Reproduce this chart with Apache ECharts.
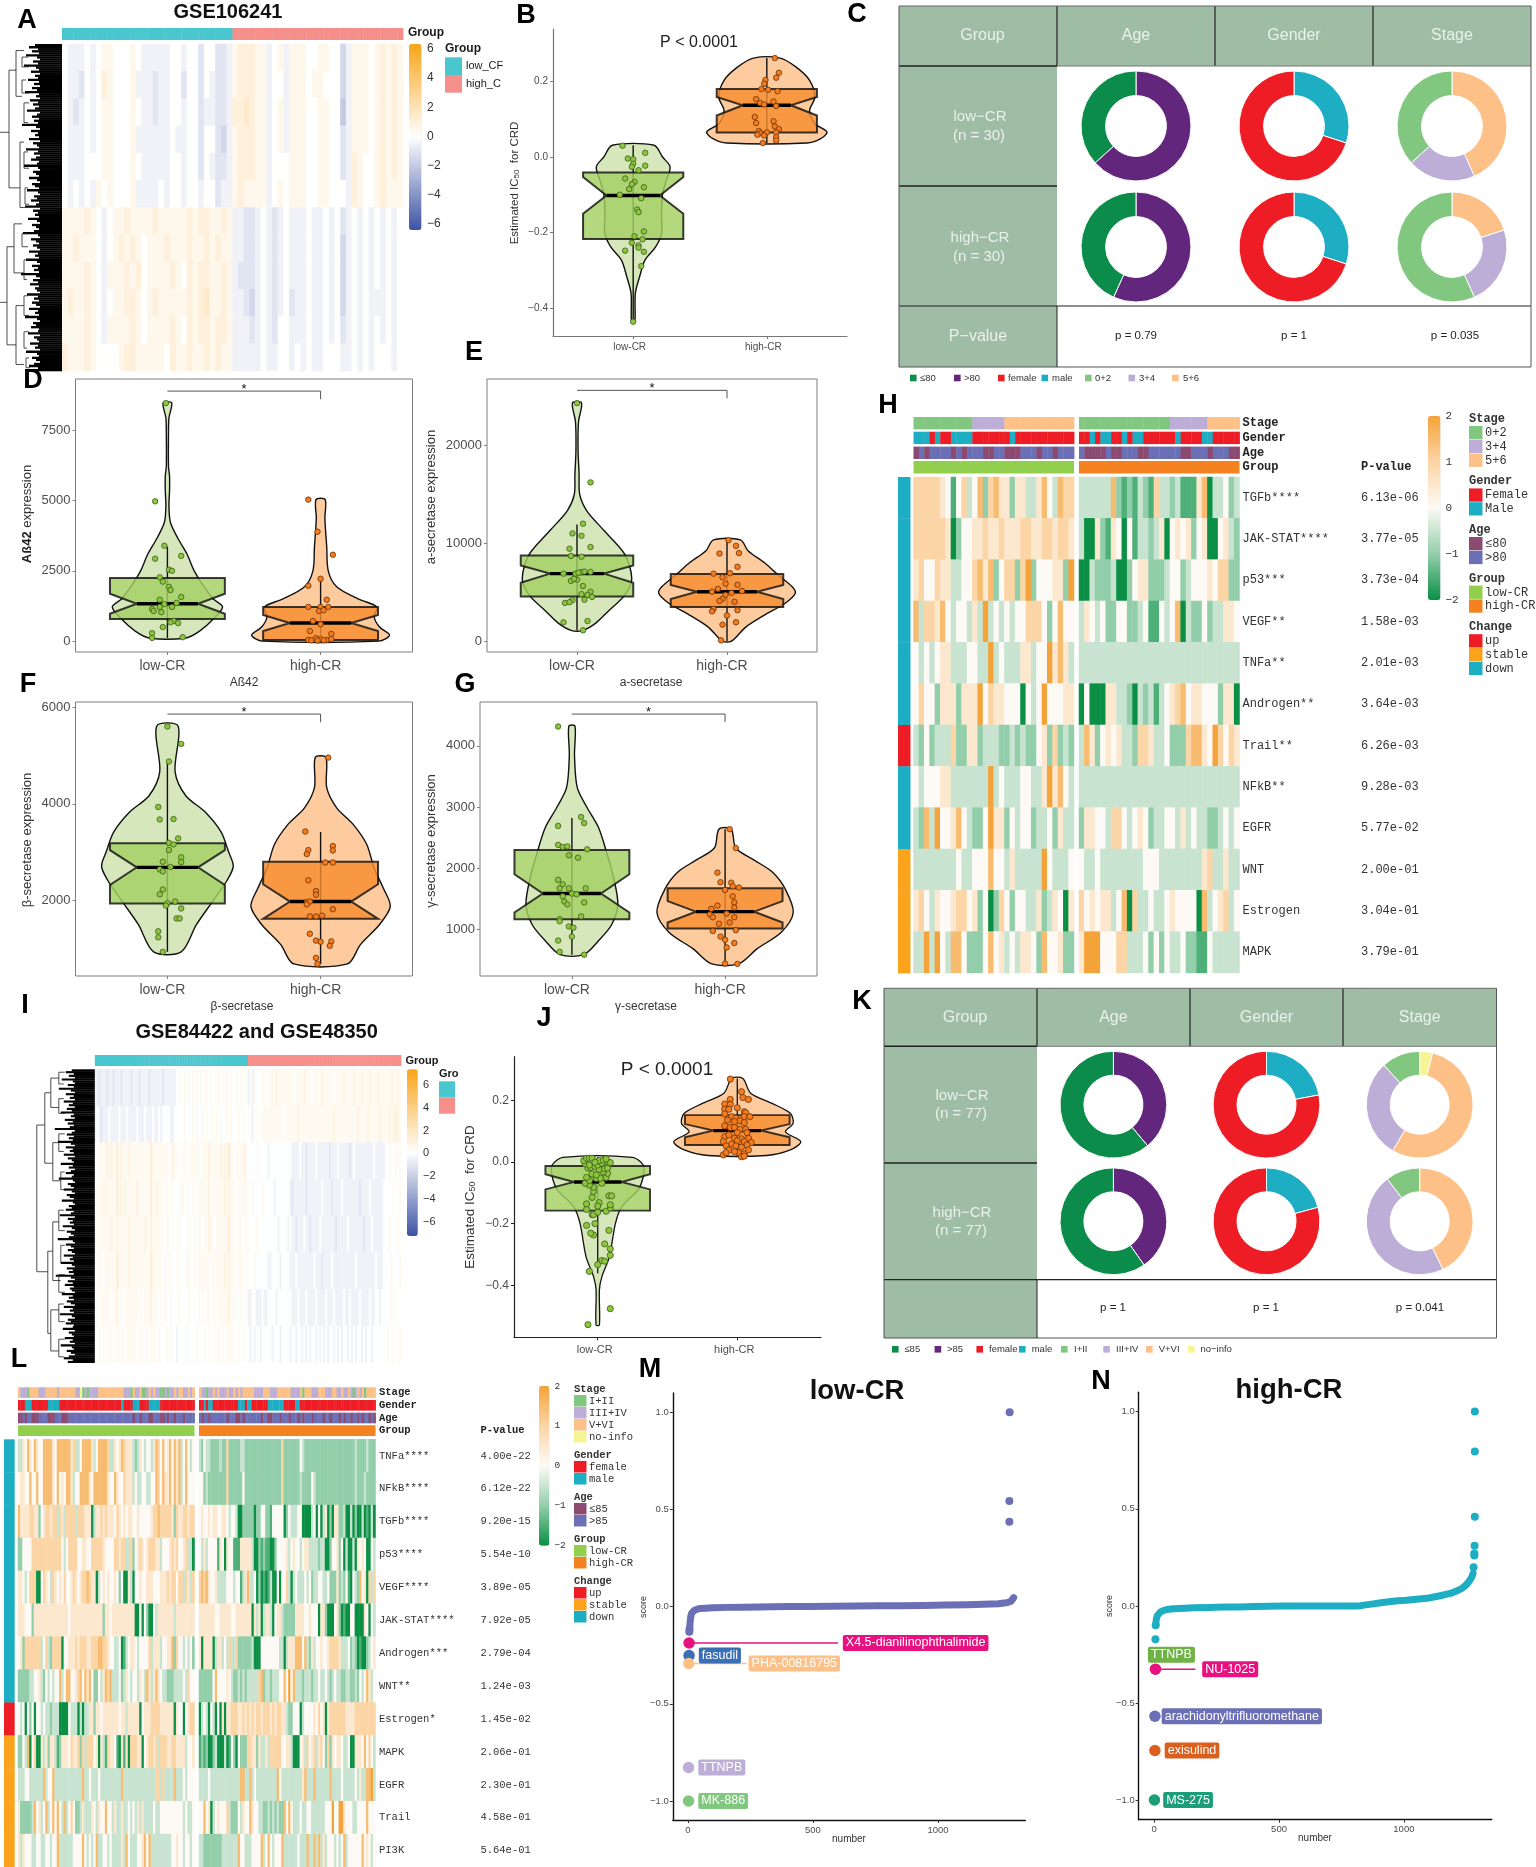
<!DOCTYPE html>
<html>
<head>
<meta charset="utf-8">
<title>CR score panels</title>
<script src="https://cdn.jsdelivr.net/npm/echarts@6/dist/echarts.min.js"></script>
<style>
html, body { margin: 0; padding: 0; background: #fff; }
#main { width: 1536px; height: 1867px; }
</style>
</head>
<body>
<div id="main"></div>
<script>
"use strict";

const groupNames = ['low-CR', 'high-CR'];

// ---- B: IC50 violin, GSE106241. Profiles are [value, half width]
const bLowViolin = [[.031,.156],[0,.22],[-.026,.276],[-.062,.248],[-.097,.22],[-.15,.212],[-.203,.212],[-.238,.168],[-.273,.088],[-.317,.048],[-.361,.016],[-.439,.012]];
const bHighViolin = [[.262,.1],[.238,.22],[.203,.32],[.159,.36],[.123,.32],[.088,.36],[.066,.45],[.048,.4],[.037,.3]];
// box = q1, notch low, median, notch high, q3, whisker low, whisker high, waist half width
const bLowBox = [-.217,-.15,-.102,-.053,-.041,-.439,.031,.2];
const bHighBox = [.065,.11,.137,.159,.18,.037,.262,.18];
const bLowPts = [[.92,.03],[1.09,.011],[.96,-.004],[1,-.006],[1,-.018],[1.09,-.023],[.99,-.026],[1.04,-.035],[.94,-.057],[1.01,-.066],[.99,-.072],[1.08,-.08],[.97,-.085],[.9,-.1],[1.06,-.109],[1.03,-.139],[1.04,-.146],[1.08,-.197],[1.01,-.21],[1.07,-.218],[.99,-.227],[1.04,-.234],[1.04,-.24],[.94,-.248],[1.08,-.251],[1.06,-.289],[1,-.436]];
const bHighPts = [[2.06,.262],[2.09,.223],[2.07,.21],[1.99,.204],[1.98,.194],[1.96,.18],[2.01,.178],[2.08,.174],[1.92,.153],[1.95,.143],[1.98,.139],[2.05,.147],[2.07,.135],[1.91,.106],[1.92,.09],[2.05,.095],[2.06,.081],[2.09,.074],[1.94,.069],[2,.065],[1.95,.063],[2.07,.065],[1.93,.059],[1.98,.057],[2.07,.053],[2.07,.044],[1.97,.037]];

// ---- D: Aß42
const dLowViolin = [[8470,.028],[7930,.01],[7360,.007],[6215,.007],[5860,.014],[5360,.014],[4790,.01],[4215,.02],[3640,.07],[3070,.13],[2500,.175],[1930,.24],[1500,.3],[1215,.36],[785,.3],[357,.21],[114,.12]];
const dHighViolin = [[5030,.03],[4360,.028],[3360,.04],[2500,.05],[1930,.105],[1500,.245],[1215,.367],[857,.35],[500,.385],[214,.45],[0,.38]];
const dLowBox = [786,972,1329,1686,2243,114,3358,.2];
const dHighBox = [43,357,643,930,1215,43,2215,.2];
const dLowPts = [[.99,8460],[.92,4970],[.98,3390],[.92,2930],[1.09,3030],[1.01,2540],[1.03,2500],[.95,2270],[.97,2115],[1.01,1930],[1.02,1815],[1.09,1570],[.95,1470],[1.06,1360],[.98,1315],[1.03,1215],[.9,1140],[.95,1215],[.91,1070],[.96,1030],[1.04,715],[1.02,670],[1.07,640],[.97,500],[.9,285],[.9,115],[1.1,140]];
const dHighPts = [[1.92,5030],[1.98,3890],[2.08,3070],[2,2215],[1.92,1970],[2.04,1470],[1.92,1215],[2,1215],[2.05,1215],[1.99,1070],[2.02,1100],[1.95,715],[2,600],[1.93,357],[2.07,257],[1.92,43],[1.97,100],[2,70],[2.04,43],[2.07,70],[1.94,30],[2.02,30],[1.98,20]];

// ---- E: a-secretase
const eLowViolin = [[24400,.03],[22430,.01],[19550,.007],[17080,.014],[15020,.018],[13370,.064],[11320,.18],[8850,.32],[6380,.365],[4730,.32],[3090,.21],[1850,.125],[1110,.04]];
const eHighViolin = [[10370,.09],[9260,.14],[8020,.25],[6790,.34],[5560,.435],[4900,.455],[3910,.39],[2670,.25],[1440,.125],[0,.03]];
const eLowBox = [4570,5970,6910,7740,8765,1110,11930,.18];
const eHighBox = [3500,4320,5060,5760,6870,0,10370,.2];
const eLowPts = [[1,24360],[1.09,16250],[1.04,12020],[.97,11030],[1.03,10780],[1.09,9630],[.95,9460],[.96,8720],[1.03,8640],[.91,6910],[1.03,7080],[1.05,7120],[1.09,7080],[.99,6910],[1.01,7000],[1,6300],[.96,6170],[.98,6380],[1.04,5640],[1.09,5060],[1.07,4730],[1.03,4810],[1.1,4530],[1.05,4240],[.97,4200],[.92,3910],[.95,3990],[.91,1930],[1.07,2060],[1.04,1110]];
const eHighPts = [[2.01,10330],[2.06,9750],[1.95,8970],[2.08,9010],[2.07,7610],[1.91,6910],[2.02,6950],[1.97,6540],[2.07,5760],[1.99,5880],[1.94,5350],[1.9,5060],[2.1,5140],[2.03,4940],[1.99,4730],[1.97,4320],[1.95,4110],[2.05,4030],[1.91,3290],[1.9,3050],[2.07,3170],[2,2630],[2.06,1930],[1.97,1690],[1.96,80]];

// ---- F: β-secretase
const fLowViolin = [[5607,.07],[4667,.05],[4166,.12],[3833,.245],[3416,.35],[3000,.4],[2708,.43],[2416,.39],[2000,.3],[1500,.19],[933,.09]];
const fHighViolin = [[4957,.035],[4333,.04],[3916,.105],[3583,.21],[3166,.3],[2666,.35],[2250,.41],[1875,.455],[1500,.385],[1083,.26],[683,.175]];
const fLowBox = [1933,2317,2683,3041,3183,933,4875,.2];
const fHighBox = [1617,1617,1975,2333,2800,683,3416,.2];
const fLowPts = [[1,5600],[1.09,5240],[1.01,4875],[.94,3933],[.95,3675],[1.04,3683],[1.07,3283],[1.01,3191],[1.04,3158],[1.01,3041],[1.09,2891],[1.09,2791],[.97,2800],[1.02,2691],[.95,2641],[.97,2600],[.97,2225],[.95,2125],[1.05,1975],[1,1941],[.99,1891],[1.09,1833],[1.06,1625],[1.08,1625],[.94,1358],[.94,1233],[.97,933]];
const fHighPts = [[2.05,4957],[1.9,3425],[2.08,3125],[2.08,3033],[1.92,3041],[1.91,2958],[2.03,2783],[2.08,2783],[1.92,2416],[1.97,2191],[1.97,2116],[1.91,1958],[1.93,1975],[1.91,1916],[2.08,1816],[1.93,1667],[1.97,1667],[2.01,1683],[1.93,1308],[1.97,1167],[2,1142],[2.07,1150],[2.06,1058],[1.97,808],[1.98,683]];

// ---- G: γ-secretase
const gLowViolin = [[4322,.02],[3843,.017],[3318,.035],[2990,.1],[2661,.175],[2267,.226],[1873,.27],[1414,.3],[1085,.26],[823,.175],[593,.077]];
const gHighViolin = [[2641,.04],[2333,.07],[2136,.19],[1939,.31],[1676,.39],[1282,.445],[954,.365],[691,.21],[442,.087]];
const gLowBox = [1171,1282,1591,1906,2300,593,2825,.19];
const gHighBox = [1020,1118,1295,1466,1676,442,2641,.19];
const gLowPts = [[.91,4316],[1.06,2838],[1.08,2740],[.91,2694],[.91,2385],[.94,2352],[.97,2359],[1.1,2313],[.98,2215],[1.04,2175],[.91,1814],[.94,1742],[.92,1676],[.98,1676],[1.09,1676],[1,1591],[1.03,1578],[.94,1545],[.95,1460],[1.08,1446],[.97,1414],[1.06,1217],[.92,1171],[.92,1138],[.98,1053],[1.01,1033],[1,888],[.91,823],[.92,639],[1.08,593]];
const gHighPts = [[2.03,2641],[2.07,2333],[1.95,1932],[1.97,1775],[2.04,1768],[2.05,1709],[2.09,1689],[2,1650],[2.05,1545],[2.06,1446],[1.95,1394],[1.91,1341],[2.06,1361],[1.9,1250],[2.01,1263],[1.92,1204],[2.06,1204],[1.96,1099],[2.03,1118],[1.92,980],[2.07,993],[1.97,888],[2,836],[2.06,783],[2.01,711],[2,448],[2.08,442]];

// ---- J: IC50 violin, GSE84422 and GSE48350
const jLowViolin = [[.015,.25],[-.01,.326],[-.048,.326],[-.091,.288],[-.145,.173],[-.199,.127],[-.307,.084],[-.372,.03],[-.415,.012],[-.529,.012]];
const jHighViolin = [[.271,.04],[.223,.096],[.19,.25],[.158,.38],[.125,.4],[.098,.345],[.066,.455],[.039,.38],[.021,.21]];
const jLowBox = [-.158,-.089,-.065,-.04,-.013,-.361,.015,.17];
const jHighBox = [.055,.08,.102,.123,.152,.021,.271,.17];
const jLowPts = [[.93,-.528],[1.09,-.476],[.94,-.355],[1,-.333],[1.03,-.32],[1.05,-.322],[1.09,-.303],[1.09,-.282],[1.05,-.266],[1.08,-.222],[.97,-.237],[.95,-.231],[.92,-.206],[.98,-.2],[.96,-.171],[.97,-.171],[1,-.163],[1.06,-.16],[1.09,-.149],[.92,-.154],[1.09,-.139],[1.01,-.132],[.92,-.136],[1,-.143],[1.08,-.11],[1.1,-.11],[.96,-.115],[.97,-.096],[.97,-.082],[.94,-.075],[.91,-.069],[1.03,-.069],[.94,-.06],[.92,-.05],[.99,-.053],[1.02,-.053],[1.06,-.05],[1.07,-.037],[.96,-.039],[.99,-.042],[1.04,-.032],[.93,-.02],[.95,-.018],[.98,-.015],[1.01,-.024],[1.05,-.022],[1.07,-.02],[.91,-.006],[.94,-.01],[1,-.01],[1.03,-.004],[1.07,.001],[1.09,-.002],[1.01,.004],[1.04,.006],[1.06,.01],[.9,.004],[.92,.012],[.94,.012],[.96,.012],[.98,-.001]];
const jHighPts = [[1.95,.269],[2.03,.228],[2.04,.209],[2.08,.203],[1.95,.203],[1.91,.188],[1.95,.187],[2,.176],[1.91,.171],[1.94,.171],[2.05,.163],[2.06,.16],[1.91,.156],[1.96,.147],[1.99,.142],[2.05,.147],[2.09,.147],[2.02,.134],[1.93,.136],[1.98,.131],[2.05,.128],[1.91,.117],[1.95,.112],[1.98,.112],[2.02,.106],[2.06,.106],[2,.095],[2.07,.095],[1.91,.082],[1.94,.088],[1.98,.077],[2.03,.075],[2.08,.077],[2.1,.063],[1.9,.066],[1.96,.058],[2,.069],[2.05,.066],[1.92,.052],[1.99,.052],[2.07,.055],[2.03,.048],[1.94,.039],[2.08,.039],[2.01,.03],[1.9,.023],[1.92,.03],[1.98,.034],[2.05,.026],[2.03,.017],[2.05,.019]];

// ---- C and K: donut counts, clockwise from 12 o'clock
const cAgeLow = [19, 11], cAgeHigh = [17, 13];
const cGenderLow = [9, 21], cGenderHigh = [9, 21];
const cStageLow = [13, 6, 11], cStageHigh = [6, 7, 17];
const kAgeLow = [30, 47], kAgeHigh = [31, 46];
const kGenderLow = [17, 60], kGenderHigh = [16, 61];
const kStageLow = [3, 42, 23, 9], kStageHigh = [0, 33, 36, 8];

// ---- H: pathway score per sample, digit d means (d-4)/2, low-CR then high-CR
const hPathways = ['TGFb****', 'JAK-STAT****', 'p53***', 'VEGF**', 'TNFa**', 'Androgen**', 'Trail**', 'NFkB**', 'EGFR', 'WNT', 'Estrogen', 'MAPK'];
const hPvalues = ['6.13e-06', '3.77e-05', '3.73e-04', '1.58e-03', '2.01e-03', '3.64e-03', '6.26e-03', '9.28e-03', '5.77e-02', '2.00e-01', '3.04e-01', '3.79e-01'];
const hChange = [2, 2, 2, 2, 2, 2, 0, 2, 2, 1, 1, 1];
const hLowRows = [
    '666665414634726755255335743766',
    '666666502445565565556655665665',
    '564465533446757246626824445528',
    '736657434435383434344666424744',
    '434345533344338343335534485753',
    '464425552555846554440434844455',
    '324233362255233322323224526232',
    '434445533333338343334433585743',
    '327384457432248552434423342533',
    '333333334334447443533333843334',
    '564354456645240264244335235405',
    '338384377422247453435542744522'
];
const hHighRows = [
    '333333721213216332311157033423',
    '300521540413323504545245004532',
    '003222300245522234423444546622',
    '354342244223411434703224233554',
    '333333333333333333333333333333',
    '040005533203231345674554442550',
    '375245453326653342226775486465',
    '333333333333333333333333333333',
    '255443664345423344353433223434',
    '433433333333444333333335633533',
    '645455347063343345444407345634',
    '588844466333424243342211433333'
];
const hStageLowRuns = [[0,11],[1,6],[2,13]], hStageHighRuns = [[0,17],[1,7],[2,6]];
const hGenderLowRuns = [[1,3],[0,1],[1,1],[0,2],[1,4],[0,7],[1,1],[0,11]];
const hGenderHighRuns = [[0,2],[1,1],[0,1],[1,2],[0,2],[1,1],[0,1],[1,2],[0,6],[1,1],[0,4],[1,2],[0,5]];
const hAgeLowRuns = [[0,1],[1,1],[0,1],[1,4],[0,1],[1,1],[0,1],[1,3],[0,2],[1,2],[0,3],[1,3],[0,1],[1,2],[0,1],[1,3]];
const hAgeHighRuns = [[1,1],[0,4],[1,1],[0,2],[1,3],[0,2],[1,6],[0,2],[1,3],[0,1],[1,3],[0,2]];

// ---- L: same encoding, 77 + 77 samples
const lPathways = ['TNFa****', 'NFkB****', 'TGFb****', 'p53****', 'VEGF****', 'JAK-STAT****', 'Androgen***', 'WNT**', 'Estrogen*', 'MAPK', 'EGFR', 'Trail', 'PI3K'];
const lPvalues = ['4.00e-22', '6.12e-22', '9.20e-15', '5.54e-10', '3.89e-05', '7.92e-05', '2.79e-04', '1.24e-03', '1.45e-02', '2.06e-01', '2.30e-01', '4.58e-01', '5.64e-01'];
const lChange = [2, 2, 2, 2, 2, 2, 2, 2, 0, 1, 1, 1, 1];
const lLowRows = [
    '3354754754 4777754777 7775633477 7753477776 3354576555 3235434435 7647457475 7347434',
    '4554474474 4777754745 4775344777 7547777775 4475446555 3433443344 7647557475 7347444',
    '7555566552 4566566365 3666636665 5503556565 5546545455 4454444456 6766666526 5566566',
    '2244446666 6666666664 3466664455 4466666544 4466566336 2456545666 5534445656 4456330',
    '5543466600 4654365454 6445654566 7655034545 4454240053 0445445554 4455565664 6636536',
    '5554442555 5555555555 5545555555 5555555255 4555555555 5004042004 3555555535 5555555',
    '4526666666 3463266660 4455565666 5566677665 4433401345 5434444635 5534455726 4434342',
    '2222233445 3243434473 4774456747 5742243576 7333423543 4435437535 7543322233 3343644',
    '4340424044 3433233300 0043330303 3552554555 5555455355 5550455566 6655555505 4404566',
    '2243704600 5352553125 5546556263 6664505316 5541051506 6655045665 6366655665 5553445',
    '3334433333 3734473333 3333333373 3433343333 3333373333 3333333333 6636333373 3343444',
    '5222223745 3473474743 7346422353 3354354474 4353353343 4353533334 3344444444 4434334',
    '5354443344 3344344733 3333444474 3434733443 4333353743 3344574733 3333333445 4434434'
];
const lHighRows = [
    '3243322223 2262222233 2222222222 2222226222 2222432222 2222222222 2222222232 2223222',
    '4423222222 2262222224 2222222222 2222226222 2222322224 3222222222 2222222232 2232222',
    '4544545544 5543443002 2222022442 2144444024 3334400003 4040350205 5223003020 0301030',
    '4353444415 4054411155 5553002121 1002444453 4544345533 3323300244 5240300305 4540043',
    '6767544533 3344434413 5733402010 1300404463 0343334342 3344334222 5232410432 7450636',
    '5555555445 5555445555 5550535035 5304553222 2255554454 4405520004 5201004400 0054043',
    '5055550355 3436336222 2223000444 4444433035 5577747325 3445445666 6533342320 1002345',
    '2222224744 4454322323 2333336723 3233344748 4733323332 3343343234 3322332232 4347534',
    '0343043040 5055666556 5656566566 6565665532 2444034444 5464505666 6666555566 6666666',
    '1212002300 0301420422 2665525335 3666664455 3000453645 6356426254 5543340055 5474643',
    '3333433333 3333333377 3373433333 3333743333 3333357333 7333333733 3343333343 5337783',
    '4474503454 4463222435 4475443322 3232322747 4333433443 3333344484 4885444334 4447444',
    '3322222222 3333333744 3334444734 7434447333 3334333733 7373534443 4347344444 4745434'
];
const lStageLow = '2111022221 1122222122 2222211301 0111122222 2222221110 2112001212 1100101121 2211212';
const lStageHigh = '2110112121 1121121212 2222111122 2111222222 1111202221 1122211122 1121121012 1202222';
const lGenderLowRuns = [[0,3],[1,3],[0,7],[1,5],[0,27],[1,1],[0,4],[1,3],[0,4],[1,5],[0,15]];
const lGenderHighRuns = [[0,2],[1,1],[0,1],[1,2],[0,11],[1,3],[0,1],[1,2],[0,7],[1,7],[0,5],[1,2],[0,33]];
const lAgeLow = '0010110001 1110001110 0011111111 1111111111 1111111111 0110111001 1100101101 1101111';
const lAgeHigh = '1011011111 1101110010 1111111011 0011101110 1110101110 1111011011 1010110110 1011010';

// ---- A and I: expression heatmaps, one row of digits per row band, digit d means (d-4)/2
const aLowBands = [
    '433343455444543333344344244223',
    '433243465444533323344244243223',
    '432343455444543323344344233223',
    '433343455444533333343344244213',
    '433344455444543333344344243223',
    '434343545444533334344344344233',
    '555565434556555565555565665565',
    '556555434565654555655565565655',
    '555565435556564555565465665565',
    '565565434556654565555565675565',
    '555565435555654555565465665665',
    '655565444456655555465565565655'
];
const aHighBands = [
    '566655345355544554413555456565',
    '566655344355545544413555456565',
    '667655345355544554403555456565',
    '566655345355544554423555456565',
    '566655344455544554423654456565',
    '565555345455544554443654456555',
    '332234323433343343423434343434',
    '332234323433343343413434343434',
    '322234323433343343413434343434',
    '332134323423343343413434333434',
    '333234324433343343423434343434',
    '333334334434343344433434344434'
];
const iLowBands = [
    '3323332332 3332333323 3323333233 3333233333 3445454545 4545455454 5454545454 4545454',
    '3432333433 3343334333 3433343334 3343444433 4444454445 4544545445 4545445454 4454544',
    '4455556565 5756555655 5555555575 5555555456 5544555455 5554555655 5556565755 4555565',
    '4555565555 5756565555 5655555575 5655545455 4445545445 5455555645 5555565655 5455555',
    '5455555565 5655555655 5555565565 5555545545 4454444544 5455455655 4555555755 5455455',
    '4555455555 5755555655 5555555575 5555454554 4554445544 5455555545 5555565655 5455545',
    '4545555545 5645455555 5555455565 5545454454 4454444544 4454545545 5455555655 4545454',
    '4454545554 5554545555 5455545455 5454445454 4344445444 4544454544 5454545555 4454544'
];
const iHighBands = [
    '3435444554 4555655555 5554555565 5545555655 5554555565 5556555655 5655565555 5565565',
    '4534544555 5555555545 5555565555 5555555555 5556555555 5555565555 6555556555 5656665',
    '4444454444 3444444444 4433334332 3333433333 3233343333 3234333333 3334333334 4544545',
    '4454444544 4443444444 4323333332 3333333433 3323333433 3333332333 3433333344 4445445',
    '4444544444 4444434444 3433233343 3233334333 3333233333 4333333323 3343333344 4544454',
    '4445444444 3344443444 4333433333 3334333233 3343333333 3333433333 3333433344 4454445',
    '3344333433 4444344444 4433343334 3333433334 3334333343 3433334333 3433443444 4454544',
    '4343443444 4434443444 4344344343 4344343434 3443434344 3434344343 4434444444 5445445'
];

// ---- dendrograms: leaf depth per row band and brackets [height, row1, row2, child1, child2]
const aLeafDepth = [
    27,33,24,30,23,36,25,22,29,24,38,26,23,31,22,27,24,34,23,28,
    22,30,25,37,23,26,22,32,24,29,23,27,35,22,25,30,23,28,24,40,
    26,22,31,24,27,23,33,22,29,25,23,36,24,28,22,26,31,23,25,38,
    24,22,29,26,23,33,25,22,30,27,23,35,24,22,28,25,31,23,26,37,
    22,29,24,27,23,34,25,22,30,26,23,28,39,24,22,31,26,23,29,25,
    22,33,24,27,23,36,25,22,30,24,28,23,41,26,22,29,24,32,23,27,
    25,22,35,24,28,23,30,26,22,33,24,27,23,37,25,22,29,26,31,23,
    24,34,22,28,25,23,32,24,27,22,36,25,23,30,26,22,28,33,24,30
];
const aMerges = [[63,27,79,53,55],[53,8,44,46,42],[46,2,16,38,40],[42,30,50,38,37],[55,62,92,48,46],[48,55,70,40,38],[46,80,98,38,38],
    [40,4,7,34,33],[40,11,15,36,33],[38,18,24,33,34],[38,33,38,34,33],[37,44,49,34,33],[40,58,62,34,34],[38,66,72,33,35],[38,77,83,34,33],[38,88,93,33,35],[36,96,99,33,32]];
const iLeafDepth = [
    23,29,21,26,20,33,22,20,27,21,36,24,20,29,21,25,20,31,22,26,
    20,28,23,34,21,24,20,30,22,27,21,25,40,20,23,28,21,26,22,37,
    24,20,29,22,25,21,31,20,27,23,21,34,22,26,20,24,29,21,23,36,
    22,20,27,24,21,31,23,20,28,25,21,33,22,20,26,23,29,21,24,35,
    20,27,22,25,21,32,23,20,28,24,21,26,37,22,20,29,24,21,27,23,
    20,31,22,25,21,34,23,20,28,22,26,21,39,24,20,27,22,30,21,25,
    23,20,33,22,26,21,28,24,20,31,22,25,21,35,23,20,27,24,29,21,
    22,32,20,26,23,21,30,22,25,20,34,23,21,28,24,20,26,31,22,27
];
const iMerges = [[58,19,69,50,47],[50,8,32,44,42],[44,3,13,36,36],[42,25,38,36,34],[47,62,90,42,44],[42,52,72,36,34],[44,82,96,36,36],
    [36,1,5,30,31],[36,10,15,31,30],[36,22,28,30,31],[34,35,41,30,30],[36,48,55,31,30],[34,60,66,30,31],[36,70,76,30,30],[36,80,86,31,30],[36,92,98,30,31]];

// ---- M and N: drug rank against score, the band of drugs and the dots that stand apart
const mBand = [[6,-.13],[7,-.115],[8,-.1],[9,-.085],[10,-.07],[12,-.05],[15,-.035],[20,-.025],[25,-.02],[30,-.016],[40,-.012],[50,-.01],[70,-.008],[100,-.006],[160,-.004],[220,-.003],[280,-.002],[340,-.001],[400,0],[490,.001],[580,.002],[670,.003],[760,.004],[850,.005],[940,.006],[1030,.008],[1120,.01],[1180,.012],[1240,.015],[1265,.018],[1280,.022],[1292,.028],[1298,.036],[1302,.046]];
const mDots = [[6,-.13],[7,-.115],[1285,.436],[1285,.543],[1286,1]];
const nBand = [[6,-.098],[7,-.085],[8,-.072],[10,-.06],[13,-.048],[18,-.038],[25,-.03],[35,-.024],[53,-.017],[75,-.014],[100,-.012],[160,-.009],[220,-.007],[280,-.005],[340,-.004],[400,-.002],[460,-.001],[520,0],[640,0],[760,0],[815,0],[840,.005],[870,.01],[907,.017],[940,.022],[975,.027],[1010,.03],[1050,.035],[1092,.04],[1125,.048],[1155,.056],[1185,.065],[1210,.077],[1231,.09],[1250,.11],[1265,.134],[1272,.15],[1277,.168]];
const nDots = [[5,-.171],[6,-.098],[1279,.2],[1282,.26],[1282,.27],[1283,.31],[1284,.459],[1284,.795],[1284,1]];
const mLabels = ['X4.5-dianilinophthalimide', 'fasudil', 'PHA-00816795', 'TTNPB', 'MK-886'];
const mLabelRanks = [5, 5, 4, 3, 3];
const mLabelScores = [-.187, -.252, -.293, -.828, -1];
const mLeaderEnds = [600, 0, 235, 0, 0];
const nLabels = ['TTNPB', 'NU-1025', 'arachidonyltrifluoromethane', 'exisulind', 'MS-275'];
const nLabelRanks = [5, 5, 3, 3, 1];
const nLabelScores = [-.25, -.324, -.566, -.742, -.997];
const nLeaderEnds = [0, 165, 0, 0, 0];

// ---- colours
const SANS = '"Liberation Sans", Arial, sans-serif';
const MONO = '"Liberation Mono", monospace';
const TABLE_GREEN = '#9fbca5';
const GREEN_DK = '#0b8c4a', PURPLE = '#62277c', RED = '#ee1d25', TEAL = '#1eaec3';
const STAGE_G = '#82c77f', STAGE_L = '#bcaed6', STAGE_P = '#fdc086', STAGE_Y = '#f7f494';
const AMBER = '#fba31c', MAROON = '#8b4a6f', SLATE = '#6b6fb5';
const LOW_C = '#93cf4f', HIGH_C = '#f58220';
const BAR_TEAL = '#4ac6cf', BAR_SALMON = '#f58f8b';
const EXPR_RAMP = ['#3b53a4', '#ffffff', '#f9a51a'];
const SCORE_RAMP = ['#0a8f45', '#93ceab', '#fdfaf6', '#fbd5a5', '#f4a33a'];
const LOW_STYLE = { violin: '#d6e8bb', box: '#a2cf62', pt: '#8cc63f', edge: '#3f5a1c' };
const HIGH_STYLE = { violin: '#fdcb9d', box: '#f68c2e', pt: '#f57c1e', edge: '#6a3208' };

const grids = [], xAxes = [], yAxes = [], series = [], visualMaps = [], gfx = [];

function addGrid(box, xAxis, yAxis, gridOpt) {
    grids.push(Object.assign({ left: box[0], top: box[1], width: box[2], height: box[3], containLabel: false }, gridOpt));
    const id = grids.length - 1;
    xAxes.push(Object.assign({ gridIndex: id }, xAxis));
    yAxes.push(Object.assign({ gridIndex: id }, yAxis));
    return id;
}

function T(x, y, text, o) {
    o = o || {};
    const align = o.align || 'left';
    gfx.push({
        type: 'text', x: x, y: y, rotation: o.rotation || 0, silent: true, z: 50,
        style: {
            text: text, fill: o.fill || '#1a1a1a',
            fontSize: o.size || 12, fontFamily: o.family || SANS, fontWeight: o.weight || 'normal',
            align: align, textAlign: align, verticalAlign: 'middle', textVerticalAlign: 'middle',
            rich: o.rich
        }
    });
}

function R(x, y, w, h, fill) {
    gfx.push({ type: 'rect', silent: true, z: 1, shape: { x: x, y: y, width: w, height: h }, style: { fill: fill } });
}

function L(x1, y1, x2, y2, color, width) {
    gfx.push({ type: 'line', silent: true, z: 3, shape: { x1: x1, y1: y1, x2: x2, y2: y2 }, style: { stroke: color, lineWidth: width } });
}

function digits(s) {
    return s.replace(/ /g, '').split('').map(Number);
}

function expandRuns(runs) {
    const out = [];
    runs.forEach(function (r) {
        for (let i = 0; i < r[1]; i++) out.push(r[0]);
    });
    return out;
}

function hiddenCat(n, inverse) {
    const data = [];
    for (let i = 0; i < n; i++) data.push(i);
    return { type: 'category', data: data, show: false, inverse: !!inverse };
}

// one strip of coloured cells, codes index into colors
function cellStrip(box, codes, colors, vertical) {
    const n = codes.length;
    const id = addGrid(box, hiddenCat(vertical ? 1 : n), hiddenCat(vertical ? n : 1, true));
    series.push({
        type: 'custom', xAxisIndex: id, yAxisIndex: id, silent: true, animation: false,
        encode: { x: 0, y: 1 },
        data: codes.map(function (c, i) { return vertical ? [0, i, c] : [i, 0, c]; }),
        renderItem: function (params, api) {
            const p = api.coord([api.value(0), api.value(1)]);
            const s = api.size([1, 1]);
            return {
                type: 'rect',
                shape: { x: p[0] - s[0] / 2, y: p[1] - s[1] / 2, width: s[0] + (vertical ? 0 : 0.4), height: s[1] + (vertical ? 0.4 : 0) },
                style: { fill: colors[api.value(2)] }
            };
        }
    });
}

// heatmap block, returns the series index for its visualMap
function heatBlock(box, rows) {
    const parsed = rows.map(digits);
    const id = addGrid(box, hiddenCat(parsed[0].length), hiddenCat(parsed.length, true));
    const data = [];
    parsed.forEach(function (row, r) {
        row.forEach(function (d, c) { data.push([c, r, (d - 4) / 2]); });
    });
    series.push({
        type: 'heatmap', xAxisIndex: id, yAxisIndex: id, data: data, silent: true,
        animation: false, progressive: 0, itemStyle: { borderWidth: 0 }, emphasis: { disabled: true }
    });
    return series.length - 1;
}

function colorBar(seriesIdx, box, min, max, ramp, ticks, labelX, labelSize, family) {
    visualMaps.push({
        type: 'continuous', seriesIndex: seriesIdx, dimension: 2, min: min, max: max,
        left: box[0], top: box[1], itemWidth: box[2], itemHeight: box[3], padding: 0,
        calculable: false, hoverLink: false, realtime: false, showLabel: false, text: null,
        inRange: { color: ramp }
    });
    ticks.forEach(function (v) {
        T(labelX, box[1] + (max - v) / (max - min) * box[3], String(v).replace('-', '\u2212'), { size: labelSize, fill: '#333', family: family });
    });
}

function dendrogram(box, maxH, depths, merges) {
    const id = addGrid(box, { type: 'value', min: 0, max: maxH, inverse: true, show: false }, { type: 'value', min: 0, max: 100, inverse: true, show: false });
    const step = 100 / depths.length;
    series.push({
        type: 'custom', xAxisIndex: id, yAxisIndex: id, silent: true, animation: false, clip: false,
        encode: { x: 1, y: 0 },
        data: depths.map(function (d, i) { return [i, d]; }),
        renderItem: function (params, api) {
            const a = api.coord([api.value(1), api.value(0) * step]);
            const b = api.coord([0, (api.value(0) + 1) * step]);
            return { type: 'rect', shape: { x: a[0], y: a[1], width: b[0] - a[0], height: b[1] - a[1] + 0.3 }, style: { fill: '#000' } };
        }
    });
    series.push({
        type: 'custom', xAxisIndex: id, yAxisIndex: id, silent: true, animation: false, clip: false,
        encode: { x: 0, y: 1 },
        data: merges,
        renderItem: function (params, api) {
            const h = api.value(0), r1 = api.value(1), r2 = api.value(2), c1 = api.value(3), c2 = api.value(4);
            const pts = [api.coord([c1, r1]), api.coord([h, r1]), api.coord([h, r2]), api.coord([c2, r2])];
            return { type: 'polyline', shape: { points: pts }, style: { stroke: '#222', lineWidth: 0.8, fill: null } };
        }
    });
}

// one violin + notched box + jitter
function violin(id, xc, profile, box, pts, style, width, lineW, symbolSize) {
    series.push({
        type: 'custom', xAxisIndex: id, yAxisIndex: id, silent: true, animation: false, z: 2,
        encode: { x: 0, y: 1 },
        data: [[xc, box[2]]],
        renderItem: function (params, api) {
            const right = profile.map(function (p) { return api.coord([xc + p[1], p[0]]); });
            const left = profile.slice().reverse().map(function (p) { return api.coord([xc - p[1], p[0]]); });
            const q1 = box[0], nLo = box[1], med = box[2], nHi = box[3], q3 = box[4], wLo = box[5], wHi = box[6], waist = box[7];
            const c = function (dx, v) { return api.coord([xc + dx, v]); };
            return {
                type: 'group',
                children: [
                    { type: 'polygon', shape: { points: right.concat(left), smooth: 0.3 }, style: { fill: style.violin, stroke: '#111', lineWidth: lineW } },
                    { type: 'line', shape: { x1: c(0, wLo)[0], y1: c(0, wLo)[1], x2: c(0, wHi)[0], y2: c(0, wHi)[1] }, style: { stroke: '#111', lineWidth: lineW } },
                    {
                        type: 'polygon',
                        shape: { points: [c(-width, q3), c(width, q3), c(width, nHi), c(waist, med), c(width, nLo), c(width, q1), c(-width, q1), c(-width, nLo), c(-waist, med), c(-width, nHi)] },
                        style: { fill: style.box, opacity: 0.82, stroke: '#111', lineWidth: lineW + 0.6 }
                    },
                    { type: 'line', shape: { x1: c(-waist, med)[0], y1: c(-waist, med)[1], x2: c(waist, med)[0], y2: c(waist, med)[1] }, style: { stroke: '#000', lineWidth: lineW + 2 } }
                ]
            };
        }
    });
    series.push({
        type: 'scatter', xAxisIndex: id, yAxisIndex: id, silent: true, animation: false, z: 3,
        data: pts, symbolSize: symbolSize,
        itemStyle: { color: style.pt, borderColor: style.edge, borderWidth: 0.8, opacity: 1 }
    });
}

function bracket(id, v1, v2) {
    series.push({
        type: 'custom', xAxisIndex: id, yAxisIndex: id, silent: true, animation: false, z: 4, clip: false,
        encode: { x: 0, y: 2 },
        data: [[1, 2, v1, v2]],
        renderItem: function (params, api) {
            const a = api.coord([1, api.value(2)]), b = api.coord([2, api.value(2)]), d = api.coord([2, api.value(3)]);
            return {
                type: 'group',
                children: [
                    { type: 'polyline', shape: { points: [a, b, d] }, style: { stroke: '#555', lineWidth: 1, fill: null } },
                    { type: 'text', style: { text: '*', x: (a[0] + b[0]) / 2, y: a[1] - 2, fontSize: 13, fontFamily: SANS, fill: '#111', align: 'center', textAlign: 'center', verticalAlign: 'middle', textVerticalAlign: 'middle' } }
                ]
            };
        }
    });
}

function violinAxes(box, yMin, yMax, ticks, opt) {
    const tickStyle = { show: true, length: 3, lineStyle: { color: opt.axisColor, width: 1 } };
    return addGrid(box,
        {
            type: 'value', min: 0.4, max: 2.6, splitLine: { show: false },
            axisLine: { show: !!opt.lines, onZero: false, lineStyle: { color: opt.axisColor, width: opt.lineW || 1 } },
            axisTick: Object.assign({ customValues: [1, 2] }, tickStyle),
            axisLabel: {
                customValues: [1, 2], formatter: function (v) { return groupNames[v - 1]; },
                fontSize: opt.xSize, color: '#4d4d4d', fontFamily: SANS, margin: opt.xMargin, padding: [0, opt.xShift, 0, 0]
            }
        },
        {
            type: 'value', min: yMin, max: yMax, splitLine: { show: false },
            axisLine: { show: !!opt.lines, onZero: false, lineStyle: { color: opt.axisColor, width: opt.lineW || 1 } },
            axisTick: Object.assign({ customValues: ticks }, tickStyle),
            axisLabel: {
                customValues: ticks, fontSize: opt.ySize, color: '#4d4d4d', fontFamily: SANS, margin: 5,
                formatter: opt.yFormat || function (v) { return String(v); }
            }
        },
        opt.frame ? { show: true, borderColor: '#7f7f7f', borderWidth: 1, backgroundColor: 'transparent' } : {}
    );
}

// ---- table with donuts
function donutTable(t) {
    const xs = t.xs, ys = t.ys;
    R(xs[0], ys[0], xs[4] - xs[0], ys[1] - ys[0], TABLE_GREEN);
    R(xs[0], ys[0], xs[1] - xs[0], ys[4] - ys[0], TABLE_GREEN);
    [xs[1], xs[2], xs[3]].forEach(function (x) { L(x, ys[0], x, ys[1], '#222', 1.2); });
    L(xs[0], ys[0], xs[4], ys[0], '#666', 1);
    L(xs[0], ys[1], xs[1], ys[1], '#222', 1.4);
    L(xs[1], ys[1], xs[4], ys[1], '#777', 1);
    L(xs[0], ys[2], xs[1], ys[2], '#222', 1.4);
    L(xs[0], ys[3], xs[4], ys[3], '#222', 1.2);
    L(xs[0], ys[4], xs[4], ys[4], '#555', 1.2);
    L(xs[4], ys[0], xs[4], ys[4], '#555', 1);
    L(xs[0], ys[0], xs[0], ys[4], '#555', 1);
    L(xs[1], ys[3], xs[1], ys[4], '#222', 1);
    const headFill = '#e9f1ea';
    const mid = (xs[0] + xs[1]) / 2;
    T(t.groupX, (ys[0] + ys[1]) / 2, 'Group', { align: 'center', fill: headFill, size: 16 });
    ['Age', 'Gender', 'Stage'].forEach(function (h, i) {
        T(t.cx[i], (ys[0] + ys[1]) / 2, h, { align: 'center', fill: headFill, size: 16 });
    });
    T(t.rowX, t.lowY, 'low\u2212CR', { align: 'center', fill: headFill, size: 15 });
    T(t.rowX - 1, t.lowY + t.nGap, t.nText, { align: 'center', fill: headFill, size: 15 });
    T(t.rowX, t.highY, 'high\u2212CR', { align: 'center', fill: headFill, size: 15 });
    T(t.rowX - 1, t.highY + t.nGap, t.nText, { align: 'center', fill: headFill, size: 15 });
    if (t.pLabel) T(mid, (ys[3] + ys[4]) / 2, t.pLabel, { align: 'center', fill: headFill, size: 16 });
    t.pText.forEach(function (p, i) { T(t.px[i], t.pY, p, { align: 'center', size: 11.5, fill: '#222' }); });
    t.values.forEach(function (rowVals, r) {
        rowVals.forEach(function (vals, c) {
            series.push({
                type: 'pie', center: [t.cx[c], t.cy[r]], radius: t.radius, startAngle: 90, clockwise: true,
                silent: true, animation: false, label: { show: false }, labelLine: { show: false },
                itemStyle: { borderColor: '#fff', borderWidth: 1 }, z: 5,
                data: vals.map(function (v, i) { return { value: v, itemStyle: { color: t.colors[c][i] } }; })
            });
        });
    });
    t.legend.forEach(function (it) {
        R(it[1], t.legendY - 3.3, 6.6, 6.6, it[2]);
        T(it[3], t.legendY, it[0], { size: 9.5, fill: '#333' });
    });
}

// ---- mono legends beside the score heatmaps
function monoLegend(x, y, swatch, size, step, titleGap, blockGap, blocks) {
    let cy = y;
    blocks.forEach(function (b) {
        T(x, cy, b[0], { family: MONO, weight: 'bold', size: size, fill: '#333' });
        let top = cy + titleGap;
        b[1].forEach(function (it) {
            R(x, top, swatch, step - 0.5, it[1]);
            T(x + swatch + 2.5, top + step / 2, it[0], { family: MONO, size: size, fill: '#333' });
            top += step;
        });
        cy = top + blockGap;
    });
}

function scoreHeat(p) {
    const lows = heatBlock([p.lowX, p.top, p.w, p.rowH * p.low.length], p.low);
    const highs = heatBlock([p.highX, p.top, p.w, p.rowH * p.high.length], p.high);
    cellStrip([p.changeX, p.top, p.changeW, p.rowH * p.low.length], p.change, [RED, AMBER, TEAL], true);
    colorBar([lows, highs], p.bar, -2, 2, SCORE_RAMP, [2, 1, 0, -1, -2], p.bar[0] + p.bar[2] + 5, p.size - 1, MONO);
    p.pathways.forEach(function (name, i) {
        const y = p.top + (i + 0.5) * p.rowH;
        T(p.labelX, y, name, { family: MONO, size: p.size, fill: '#333' });
        T(p.pX, y, p.pvals[i], { family: MONO, size: p.size, fill: '#333' });
    });
    p.annoNames.forEach(function (n, i) {
        T(p.labelX, p.annoY[i] + p.annoH / 2, n, { family: MONO, weight: 'bold', size: p.size, fill: '#222' });
    });
    T(p.pX, p.annoY[3] + p.annoH / 2, 'P-value', { family: MONO, weight: 'bold', size: p.size, fill: '#222' });
    const stageC = [STAGE_G, STAGE_L, STAGE_P, STAGE_Y];
    const genderC = [RED, TEAL], ageC = [MAROON, SLATE];
    p.annoLow.forEach(function (codes, i) {
        cellStrip([p.lowX, p.annoY[i], p.w, p.annoH], codes, [stageC, genderC, ageC][i]);
        cellStrip([p.highX, p.annoY[i], p.w, p.annoH], p.annoHigh[i], [stageC, genderC, ageC][i]);
    });
    R(p.lowX, p.annoY[3], p.w, p.annoH, LOW_C);
    R(p.highX, p.annoY[3], p.w, p.annoH, HIGH_C);
}

// ---- scatter panels M, N
function rankPanel(box, xMin, xMax, yMin, yMax, band, dots, baseColor, names, ranks, scores, ends, colors, dists) {
    const id = addGrid(box,
        {
            type: 'value', min: xMin, max: xMax, splitLine: { show: false },
            axisLine: { show: true, onZero: false, lineStyle: { color: '#111', width: 1.4 } },
            axisTick: { show: true, length: 3, customValues: [0, 500, 1000], lineStyle: { color: '#333' } },
            axisLabel: {
                customValues: [0, 500, 1000], fontSize: 9.5, color: '#4d4d4d', margin: 5, fontFamily: SANS,
                formatter: function (v) { return String(v); }
            }
        },
        {
            type: 'value', min: yMin, max: yMax, splitLine: { show: false },
            axisLine: { show: true, onZero: false, lineStyle: { color: '#111', width: 1.4 } },
            axisTick: { show: true, length: 3, customValues: [-1, -0.5, 0, 0.5, 1], lineStyle: { color: '#333' } },
            axisLabel: {
                customValues: [-1, -0.5, 0, 0.5, 1], fontSize: 9.5, color: '#4d4d4d', margin: 4, fontFamily: SANS,
                formatter: function (v) { return v.toFixed(1).replace('-', '\u2212'); }
            }
        });
    series.push({
        type: 'line', xAxisIndex: id, yAxisIndex: id, data: band, symbol: 'none', silent: true, animation: false,
        lineStyle: { color: baseColor, width: 7, cap: 'round', join: 'round' }
    });
    series.push({
        type: 'scatter', xAxisIndex: id, yAxisIndex: id, data: dots, symbolSize: 8, silent: true, animation: false,
        itemStyle: { color: baseColor, opacity: 1 }
    });
    names.forEach(function (n, i) {
        if (ends[i]) {
            series.push({
                type: 'line', xAxisIndex: id, yAxisIndex: id, silent: true, animation: false, symbol: 'none', z: 3,
                data: [[ranks[i], scores[i]], [ends[i], scores[i]]],
                lineStyle: { color: colors[i], width: 1.5 }
            });
        }
    });
    series.push({
        type: 'scatter', xAxisIndex: id, yAxisIndex: id, silent: true, animation: false, symbolSize: 11.5, z: 4,
        data: names.map(function (n, i) {
            return {
                value: [ranks[i], scores[i]],
                itemStyle: { color: colors[i], opacity: 1 },
                label: {
                    show: true, formatter: n, position: dists[i][0], distance: dists[i][1], offset: dists[i][2] || [0, 0],
                    color: '#fff', fontSize: 12.5, fontFamily: SANS, backgroundColor: colors[i],
                    padding: [2, 3, 1, 3], borderRadius: 2
                }
            };
        })
    });
}

// ====== A
T(228, 12, 'GSE106241', { align: 'center', weight: 'bold', size: 20, fill: '#111' });
cellStrip([62, 28, 341, 12], expandRuns([[0, 30], [1, 30]]), [BAR_TEAL, BAR_SALMON]);
T(408, 33, 'Group', { weight: 'bold', size: 12 });
const aRows = aLowBands.map(function (r, i) { return r + aHighBands[i]; });
const aHeat = heatBlock([62, 44, 341, 327], aRows);
colorBar([aHeat], [409, 44, 12.5, 186], -6.41, 6.34, EXPR_RAMP, [6, 4, 2, 0, -2, -4, -6], 427, 12, SANS);
dendrogram([0, 44, 62, 327], 62, aLeafDepth, aMerges);
T(445, 49, 'Group', { weight: 'bold', size: 12 });
R(445, 57.3, 17, 17.7, BAR_TEAL); R(445, 75, 17, 17.7, BAR_SALMON);
T(466, 66, 'low_CF', { size: 11 }); T(466, 84, 'high_C', { size: 11 });

// ====== B
const bId = violinAxes([553, 29, 294, 307], -0.474, 0.339, [-0.4, -0.2, 0, 0.2], {
    axisColor: '#777', lines: true, xSize: 10, ySize: 10, xMargin: 6, xShift: 7, lineW: 1.2,
    yFormat: function (v) { return v.toFixed(1).replace('-', '\u2212'); }
});
violin(bId, 1, bLowViolin, bLowBox, bLowPts, LOW_STYLE, 0.375, 1.4, 5.5);
violin(bId, 2, bHighViolin, bHighBox, bHighPts, HIGH_STYLE, 0.375, 1.4, 5.5);
T(699, 43, 'P < 0.0001', { align: 'center', size: 16, fill: '#222' });
T(515, 183, 'Estimated IC{s|50}  for CRD', { align: 'center', rotation: Math.PI / 2, size: 11.5, fill: '#333', rich: { s: { fontSize: 8, fontFamily: SANS, verticalAlign: 'bottom', fill: '#333' } } });

// ====== C
donutTable({
    xs: [899, 1057, 1215, 1373, 1531], ys: [6, 66, 186, 306, 367],
    cx: [1136, 1294, 1452], cy: [126, 247], radius: [30.4, 55], groupX: 982.5, rowX: 980,
    lowY: 117, highY: 238, nGap: 19, nText: '(n = 30)', pLabel: 'P\u2212value',
    pText: ['p = 0.79', 'p = 1', 'p = 0.035'], px: [1136, 1294, 1455], pY: 336,
    values: [[cAgeLow, cGenderLow, cStageLow], [cAgeHigh, cGenderHigh, cStageHigh]],
    colors: [[PURPLE, GREEN_DK], [TEAL, RED], [STAGE_P, STAGE_L, STAGE_G]],
    legendY: 378,
    legend: [['\u226480', 910, GREEN_DK, 920], ['>80', 954, PURPLE, 964], ['female', 998, RED, 1008], ['male', 1041.5, TEAL, 1052], ['0+2', 1085, STAGE_G, 1095], ['3+4', 1128.5, STAGE_L, 1139], ['5+6', 1172, STAGE_P, 1183]]
});

// ====== D E F G
const frameOpt = { axisColor: '#7f7f7f', frame: true, xSize: 14, ySize: 13, xMargin: 7, xShift: 10 };
const dId = violinAxes([75.5, 379, 337, 273], -386, 9317, [0, 2500, 5000, 7500], frameOpt);
violin(dId, 1, dLowViolin, dLowBox, dLowPts, LOW_STYLE, 0.375, 1.4, 5.5);
violin(dId, 2, dHighViolin, dHighBox, dHighPts, HIGH_STYLE, 0.375, 1.4, 5.5);
bracket(dId, 8887, 8602);
T(244, 683, 'A\u00df42', { align: 'center', size: 12, fill: '#333' });
T(27, 514, '{b|A\u00df42} expression', { align: 'center', rotation: Math.PI / 2, size: 13, fill: '#333', rich: { b: { fontWeight: 'bold', fontSize: 13, fontFamily: SANS, fill: '#222' } } });

const eId = violinAxes([487, 379, 330, 273], -1110, 26830, [0, 10000, 20000], frameOpt);
violin(eId, 1, eLowViolin, eLowBox, eLowPts, LOW_STYLE, 0.375, 1.4, 5.5);
violin(eId, 2, eHighViolin, eHighBox, eHighPts, HIGH_STYLE, 0.375, 1.4, 5.5);
bracket(eId, 25670, 24850);
T(651, 683, 'a-secretase', { align: 'center', size: 12, fill: '#333' });
T(431, 497, 'a-secretase expression', { align: 'center', rotation: Math.PI / 2, size: 13, fill: '#333' });

const fId = violinAxes([75.5, 702, 337, 274], 433, 6108, [2000, 4000, 6000], frameOpt);
violin(fId, 1, fLowViolin, fLowBox, fLowPts, LOW_STYLE, 0.375, 1.4, 5.5);
violin(fId, 2, fHighViolin, fHighBox, fHighPts, HIGH_STYLE, 0.375, 1.4, 5.5);
bracket(fId, 5858, 5690);
T(242, 1007, '\u03b2-secretase', { align: 'center', size: 12, fill: '#333' });
T(27, 840, '\u03b2-secretase expression', { align: 'center', rotation: Math.PI / 2, size: 13, fill: '#333' });

const gId = violinAxes([480, 702, 337, 274], 245, 4716, [1000, 2000, 3000, 4000], frameOpt);
violin(gId, 1, gLowViolin, gLowBox, gLowPts, LOW_STYLE, 0.375, 1.4, 5.5);
violin(gId, 2, gHighViolin, gHighBox, gHighPts, HIGH_STYLE, 0.375, 1.4, 5.5);
bracket(gId, 4519, 4388);
T(646, 1007, '\u03b3-secretase', { align: 'center', size: 12, fill: '#333' });
T(431, 841, '\u03b3-secretase expression', { align: 'center', rotation: Math.PI / 2, size: 13, fill: '#333' });

// ====== H
scoreHeat({
    lowX: 913.5, highX: 1079, w: 160.5, top: 477, rowH: 41.33, low: hLowRows, high: hHighRows,
    changeX: 898, changeW: 12.5, change: hChange, bar: [1428, 416, 12.5, 184],
    pathways: hPathways, pvals: hPvalues, labelX: 1242.5, pX: 1361, size: 12,
    annoNames: ['Stage', 'Gender', 'Age', 'Group'], annoY: [417, 431.7, 446.6, 461], annoH: 12.4,
    annoLow: [expandRuns(hStageLowRuns), expandRuns(hGenderLowRuns), expandRuns(hAgeLowRuns)],
    annoHigh: [expandRuns(hStageHighRuns), expandRuns(hGenderHighRuns), expandRuns(hAgeHighRuns)]
});
monoLegend(1469, 419, 13.5, 12, 13.8, 7, 14, [
    ['Stage', [['0+2', STAGE_G], ['3+4', STAGE_L], ['5+6', STAGE_P]]],
    ['Gender', [['Female', RED], ['Male', TEAL]]],
    ['Age', [['\u226480', MAROON], ['>80', SLATE]]],
    ['Group', [['low-CR', LOW_C], ['high-CR', HIGH_C]]],
    ['Change', [['up', RED], ['stable', AMBER], ['down', TEAL]]]
]);

// ====== I
T(256.6, 1032, 'GSE84422 and GSE48350', { align: 'center', weight: 'bold', size: 20, fill: '#111' });
cellStrip([94.8, 1055, 306.2, 11], expandRuns([[0, 77], [1, 77]]), [BAR_TEAL, BAR_SALMON]);
T(405.5, 1061, 'Group', { weight: 'bold', size: 11 });
const iRows = iLowBands.map(function (r, i) { return r + iHighBands[i]; });
const iHeat = heatBlock([94.8, 1069.3, 306.2, 293.4], iRows);
colorBar([iHeat], [407, 1069.3, 10.8, 166.7], -7.23, 7.35, EXPR_RAMP, [6, 4, 2, 0, -2, -4, -6], 423, 11, SANS);
dendrogram([30, 1069.3, 64.8, 293.4], 64.8, iLeafDepth, iMerges);
T(439, 1074, 'Gro', { weight: 'bold', size: 11 });
R(439, 1081.3, 16, 16, BAR_TEAL); R(439, 1097.3, 16, 16.4, BAR_SALMON);

// ====== J
const jId = violinAxes([514, 1056.7, 307, 280.6], -0.569, 0.3416, [-0.4, -0.2, 0, 0.2], {
    axisColor: '#222', lines: true, xSize: 11, ySize: 12, xMargin: 7, xShift: 6, lineW: 1.2,
    yFormat: function (v) { return v.toFixed(1).replace('-', '\u2212'); }
});
violin(jId, 1, jLowViolin, jLowBox, jLowPts, LOW_STYLE, 0.375, 1.3, 6.2);
violin(jId, 2, jHighViolin, jHighBox, jHighPts, HIGH_STYLE, 0.375, 1.3, 6.2);
T(667, 1070, 'P < 0.0001', { align: 'center', size: 19, fill: '#222' });
T(470, 1197, 'Estimated IC{s|50}  for CRD', { align: 'center', rotation: Math.PI / 2, size: 13.5, fill: '#333', rich: { s: { fontSize: 9, fontFamily: SANS, verticalAlign: 'bottom', fill: '#333' } } });

// ====== K
donutTable({
    xs: [884, 1037, 1190, 1343, 1496.5], ys: [988.3, 1046.3, 1163, 1279.7, 1338],
    cx: [1113.4, 1266.5, 1419.7], cy: [1104.7, 1221.3], radius: [29.5, 53.4], groupX: 965, rowX: 962,
    lowY: 1096, highY: 1212.7, nGap: 18, nText: '(n = 77)', pLabel: '',
    pText: ['p = 1', 'p = 1', 'p = 0.041'], px: [1113, 1266, 1420], pY: 1308,
    values: [[kAgeLow, kGenderLow, kStageLow], [kAgeHigh, kGenderHigh, kStageHigh]],
    colors: [[PURPLE, GREEN_DK], [TEAL, RED], [STAGE_Y, STAGE_P, STAGE_L, STAGE_G]],
    legendY: 1349.3,
    legend: [['\u226485', 892, GREEN_DK, 904.4], ['>85', 934.6, PURPLE, 947], ['female', 976.4, RED, 989], ['male', 1019, TEAL, 1031.7], ['I+II', 1061, STAGE_G, 1074], ['III+IV', 1103.3, STAGE_L, 1116], ['V+VI', 1146, STAGE_P, 1158.7], ['no\u2212info', 1188, STAGE_Y, 1200.4]]
});

// ====== L
scoreHeat({
    lowX: 18, highX: 199, w: 176.5, top: 1439.3, rowH: 32.9, low: lLowRows, high: lHighRows,
    changeX: 4, changeW: 10.7, change: lChange, bar: [539, 1386, 10.4, 159.7],
    pathways: lPathways, pvals: lPvalues, labelX: 379, pX: 480.4, size: 10.5,
    annoNames: ['Stage', 'Gender', 'Age', 'Group'], annoY: [1387.3, 1400, 1412.7, 1425.3], annoH: 10.6,
    annoLow: [digits(lStageLow), expandRuns(lGenderLowRuns), digits(lAgeLow)],
    annoHigh: [digits(lStageHigh), expandRuns(lGenderHighRuns), digits(lAgeHigh)]
});
monoLegend(574, 1389, 12.5, 10.5, 12, 6, 12, [
    ['Stage', [['I+II', STAGE_G], ['III+IV', STAGE_L], ['V+VI', STAGE_P], ['no-info', STAGE_Y]]],
    ['Gender', [['female', RED], ['male', TEAL]]],
    ['Age', [['\u226485', MAROON], ['>85', SLATE]]],
    ['Group', [['low-CR', LOW_C], ['high-CR', HIGH_C]]],
    ['Change', [['up', RED], ['stable', AMBER], ['down', TEAL]]]
]);

// ====== M N
rankPanel([672.8, 1393, 352.6, 427], -60, 1349, -1.098, 1.099, mBand, mDots, SLATE,
    mLabels, mLabelRanks, mLabelScores, mLeaderEnds,
    ['#e7127f', '#3a6fb5', STAGE_P, STAGE_L, STAGE_G],
    [['right', 148], ['right', 4], ['right', 54], ['right', 4], ['right', 4]]);
T(857, 1391, 'low-CR', { align: 'center', weight: 'bold', size: 27.5, fill: '#111' });
T(849, 1839, 'number', { align: 'center', size: 10, fill: '#333' });
T(644, 1607, 'score', { align: 'center', rotation: Math.PI / 2, size: 9, fill: '#333' });

rankPanel([1138.7, 1392.3, 353.1, 427.4], -62, 1352, -1.098, 1.099, nBand, nDots, TEAL,
    nLabels, nLabelRanks, nLabelScores, nLeaderEnds,
    ['#6fb346', '#e7127f', SLATE, '#d95f1e', '#1b9e77'],
    [['inside', 0, [16, 0]], ['right', 41], ['right', 1], ['right', 4], ['right', 3]]);
T(1289, 1390, 'high-CR', { align: 'center', weight: 'bold', size: 27.5, fill: '#111' });
T(1315, 1838, 'number', { align: 'center', size: 10, fill: '#333' });
T(1110, 1606, 'score', { align: 'center', rotation: Math.PI / 2, size: 9, fill: '#333' });

// ====== panel letters
[['A', 27, 21], ['B', 526, 16], ['C', 857, 15], ['D', 33, 381], ['E', 474, 353], ['F', 28, 685], ['G', 465, 685], ['H', 888, 406],
 ['I', 25, 1006], ['J', 544, 1019], ['K', 862, 1002], ['L', 19, 1360], ['M', 650, 1370], ['N', 1101, 1382]].forEach(function (p) {
    T(p[1], p[2], p[0], { align: 'center', weight: 'bold', size: 27, fill: '#000' });
});

const myChart = echarts.init(document.getElementById('main'), null, { renderer: 'canvas' });
myChart.setOption({
    animation: false,
    backgroundColor: '#fff',
    textStyle: { fontFamily: SANS },
    tooltip: { show: false },
    grid: grids,
    xAxis: xAxes,
    yAxis: yAxes,
    visualMap: visualMaps,
    series: series,
    graphic: { elements: gfx }
});
</script>
</body>
</html>
